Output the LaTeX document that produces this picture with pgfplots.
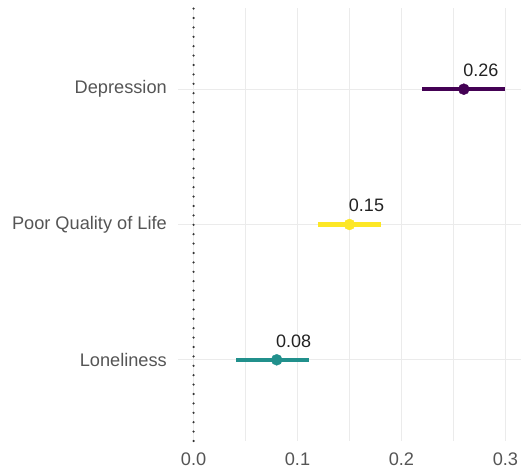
\documentclass[border=0pt]{standalone}
\usepackage{pgfplots}
\pgfplotsset{compat=1.18}
\usepackage{fontspec}
\setmainfont{Liberation Sans}

\definecolor{vpurple}{HTML}{440154}
\definecolor{vyellow}{HTML}{FDE725}
\definecolor{vteal}{HTML}{21908C}
\definecolor{gridgray}{HTML}{EBEBEB}
\definecolor{ticktext}{HTML}{555555}
\definecolor{valtext}{HTML}{222222}

\begin{document}
\begin{tikzpicture}
\useasboundingbox (-178bp,-31bp) rectangle (343bp,441bp);
\begin{axis}[
  scale only axis,
  width=343bp, height=433bp,
  xmin=-0.015, xmax=0.315,
  ymin=0.4, ymax=3.6,
  axis line style={draw=none},
  major tick length=0pt, minor tick length=0pt,
  xtick={0,0.1,0.2,0.3},
  minor xtick={0.05,0.15,0.25},
  ytick={1,2,3},
  yticklabels={Loneliness, Poor Quality of Life, Depression},
  xticklabel style={/pgf/number format/fixed, /pgf/number format/fixed zerofill,
    /pgf/number format/precision=1, inner sep=0pt, yshift=-12bp},
  yticklabel style={inner sep=0pt, xshift=-11bp},
  tick label style={font=\fontsize{18.2bp}{21bp}\selectfont, text=ticktext},
  /pgf/number format/assume math mode=true,
  xmajorgrids, xminorgrids, ymajorgrids,
  major grid style={draw=gridgray, line width=1bp},
  minor grid style={draw=gridgray, line width=0.6bp},
  clip=false,
]
% reference line at zero
\addplot[draw=black!80, line width=2.4bp, line cap=round, dash pattern=on 0pt off 9.4bp]
  coordinates {(0,0.4) (0,3.6)};

% confidence intervals
\addplot[draw=vpurple, line width=4.3bp] coordinates {(0.22,3) (0.30,3)};
\addplot[draw=vyellow, line width=4.3bp] coordinates {(0.12,2) (0.18,2)};
\addplot[draw=vteal, line width=4.3bp] coordinates {(0.041,1) (0.111,1)};

% point estimates with value labels
\addplot[only marks, mark=*, mark size=5.5bp, draw=vpurple, fill=vpurple,
  nodes near coords, point meta=explicit symbolic,
  nodes near coords style={font=\fontsize{18bp}{21bp}\selectfont, text=valtext,
    anchor=center, xshift=17bp, yshift=19bp}]
  coordinates {(0.26,3) [0.26]};
\addplot[only marks, mark=*, mark size=5.5bp, draw=vyellow, fill=vyellow,
  nodes near coords, point meta=explicit symbolic,
  nodes near coords style={font=\fontsize{18bp}{21bp}\selectfont, text=valtext,
    anchor=center, xshift=17bp, yshift=19bp}]
  coordinates {(0.15,2) [0.15]};
\addplot[only marks, mark=*, mark size=5.5bp, draw=vteal, fill=vteal,
  nodes near coords, point meta=explicit symbolic,
  nodes near coords style={font=\fontsize{18bp}{21bp}\selectfont, text=valtext,
    anchor=center, xshift=17bp, yshift=19bp}]
  coordinates {(0.08,1) [0.08]};
\end{axis}
\end{tikzpicture}
\end{document}
